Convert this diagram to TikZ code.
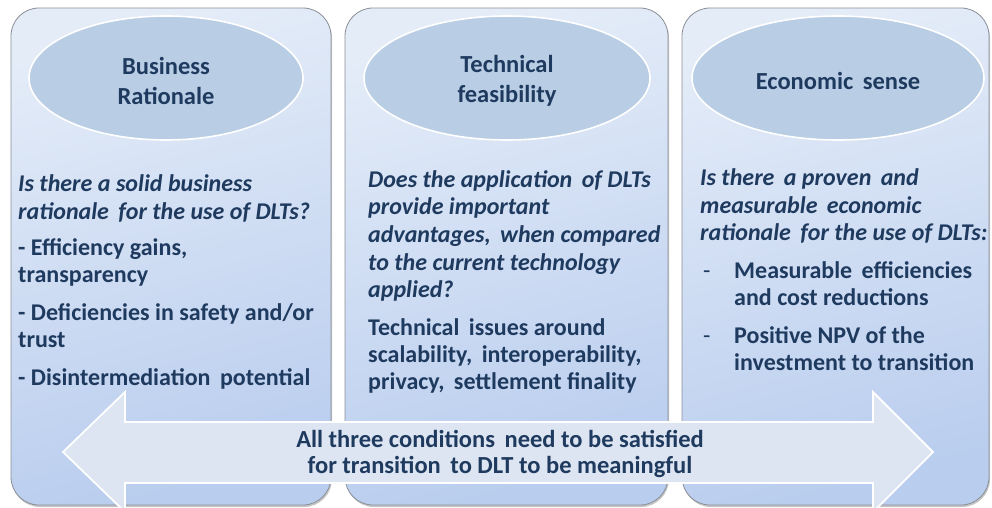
\documentclass[tikz,border=0pt]{standalone}
\usepackage{fontspec}
\setmainfont{Carlito}
\usetikzlibrary{shadows}
\definecolor{navy}{HTML}{1F3A5F}
\definecolor{panelA}{HTML}{E4ECF8}
\definecolor{panelB}{HTML}{B9CDEE}
\definecolor{panelEdge}{HTML}{8A8F98}
\definecolor{ellFill}{HTML}{B9CDE4}
\definecolor{arrFill}{HTML}{DCE5F1}
\tikzset{
  panel/.style={draw=panelEdge, line width=0.8pt, rounded corners=28pt,
    top color=panelA, bottom color=panelB, shading angle=15,
    drop shadow={shadow xshift=1pt, shadow yshift=-2pt, opacity=0.45, fill=gray}},
  ell/.style={draw=white, line width=1.6pt, fill=ellFill},
  ttl/.style={text=navy, font=\fontsize{24.5}{30}\selectfont\bfseries, align=center, inner sep=0pt},
  qline/.style={text=navy, font=\fontsize{24}{27}\selectfont\bfseries\itshape, anchor=base west, inner sep=0pt},
  bline/.style={text=navy, font=\fontsize{24}{27}\selectfont\bfseries, anchor=base west, inner sep=0pt},
  dline/.style={text=navy, font=\fontsize{24}{27}\selectfont, anchor=base west, inner sep=0pt},
  arr/.style={draw=white, line width=1.8pt, fill=arrFill, line join=miter},
  atext/.style={text=navy, font=\fontsize{24.5}{25.5}\selectfont\bfseries, align=center, inner sep=0pt}
}
\begin{document}
\begin{tikzpicture}[x=1pt,y=-1pt]
\useasboundingbox (0,0) rectangle (992,507);
\fill[white] (0,0) rectangle (992,507);
% panels
\path[panel] (11,8) rectangle (331,505);
\path[panel] (345,8) rectangle (668,505);
\path[panel] (682,8) rectangle (989,505);
% ellipses
\path[ell] (166,78) ellipse [x radius=137, y radius=62];
\path[ell] (507,78) ellipse [x radius=143, y radius=62];
\path[ell] (838,78) ellipse [x radius=146, y radius=62];
\node[ttl] (t1) at (166,81) {Business\\Rationale};
\node[ttl] (t2) at (507,81) {Technical\\feasibility};
\node[ttl] (t3) at (838,81) {Economic\, sense};
% panel 1 text
\node[qline] (a1) at (18,191) {Is there a solid business};
\node[qline] (a2) at (18,219) {rationale\, for the use of DLTs?};
\node[bline] (a3) at (18,255) {- Efficiency gains,};
\node[bline] (a4) at (18,282) {transparency};
\node[bline] (a5) at (18,320) {- Deficiencies in safety and/or};
\node[bline] (a6) at (18,347) {trust};
\node[bline] (a7) at (18,385) {- Disintermediation\, potential};
% panel 2 text
\node[qline] (b1) at (368,187) {Does the application\, of DLTs};
\node[qline] (b2) at (368,214) {provide important};
\node[qline] (b3) at (368,242) {advantages,\, when compared};
\node[qline] (b4) at (368,270) {to the current technology};
\node[qline] (b5) at (368,297) {applied?};
\node[bline] (b6) at (368,335) {Technical\, issues around};
\node[bline] (b7) at (368,362) {scalability,\, interoperability,};
\node[bline] (b8) at (368,389) {privacy,\, settlement finality};
% panel 3 text
\node[qline] (c1) at (700,185) {Is there\, a proven\, and};
\node[qline] (c2) at (700,213) {measurable\, economic};
\node[qline] (c3) at (700,240) {rationale\, for the use of DLTs:};
\node[dline] (c4d) at (703,278) {-};
\node[bline] (c4) at (734,278) {Measurable\, efficiencies};
\node[bline] (c5) at (734,305) {and cost reductions};
\node[dline] (c6d) at (703,343) {-};
\node[bline] (c6) at (734,343) {Positive NPV of the};
\node[bline] (c7) at (734,370) {investment to transition};
% double arrow
\coordinate (Ltip) at (63,452);
\coordinate (Rtip) at (933,452);
\path[arr] (Ltip) -- (125,392) -- (125,422) -- (873,422) -- (873,392) -- (Rtip)
  -- (873,512) -- (873,483) -- (125,483) -- (125,512) -- cycle;
\node[atext] (msg) at (500,454) {All three conditions\, need to be satisfied\\for transition\, to DLT to be meaningful};
\end{tikzpicture}
\end{document}
